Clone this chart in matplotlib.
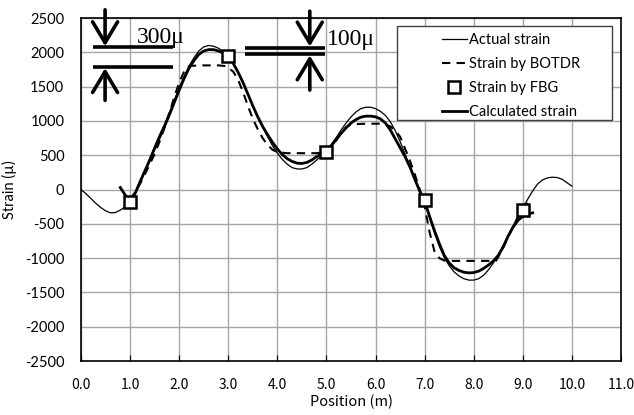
import matplotlib
matplotlib.use('Agg')
import matplotlib.pyplot as plt
from matplotlib.lines import Line2D
from matplotlib.patches import Rectangle

# strain curves (position in m, strain in micro)
actual_x = [0.0, 0.1, 0.2, 0.3, 0.4, 0.5, 0.6, 0.7, 0.8, 0.9, 1.0, 1.1, 1.2, 1.3, 1.4, 1.5,
            1.6, 1.7, 1.8, 1.9, 2.0, 2.1, 2.2, 2.3, 2.4, 2.5, 2.6, 2.7, 2.8, 2.9, 3.0,
            3.1, 3.2, 3.3, 3.4, 3.5, 3.6, 3.7, 3.8, 3.9, 4.0, 4.1, 4.2, 4.3, 4.4, 4.5,
            4.6, 4.7, 4.8, 4.9, 5.0, 5.1, 5.2, 5.3, 5.4, 5.5, 5.6, 5.7, 5.8, 5.9, 6.0,
            6.1, 6.2, 6.3, 6.4, 6.5, 6.6, 6.7, 6.8, 6.9, 7.0, 7.1, 7.2, 7.3, 7.4, 7.5,
            7.6, 7.7, 7.8, 7.9, 8.0, 8.1, 8.2, 8.3, 8.4, 8.5, 8.6, 8.7, 8.8, 8.9, 9.0,
            9.1, 9.2, 9.3, 9.4, 9.5, 9.6, 9.7, 9.8, 9.9, 10.0]
actual_y = [0, -60, -130, -200, -260, -310, -340, -335, -300, -250, -180, -50, 100, 270, 450, 630,
            800, 950, 1120, 1300, 1480, 1650, 1800, 1920, 2020, 2080, 2100, 2090, 2060, 2010, 1950,
            1830, 1700, 1550, 1390, 1220, 1060, 910, 770, 640, 530, 440, 370, 320, 300, 300,
            320, 370, 430, 500, 570, 660, 760, 870, 970, 1060, 1130, 1180, 1200, 1200, 1180,
            1140, 1080, 990, 860, 700, 520, 330, 140, -40, -180, -410, -630, -830, -990, -1110,
            -1200, -1260, -1300, -1320, -1320, -1300, -1250, -1170, -1070, -950, -810, -670, -530, -400, -270,
            -140, -20, 80, 140, 170, 180, 175, 150, 100, 50]

botdr_x = [1.0, 1.1, 1.2, 1.3, 1.4, 1.5, 1.6, 1.7, 1.8, 1.9, 2.0, 2.1, 2.2, 2.4, 2.6, 2.8, 2.95,
           3.1, 3.2, 3.3, 3.4, 3.5, 3.6, 3.7, 3.8, 3.9, 4.0, 4.2, 4.5, 4.8, 5.0, 5.1, 5.2, 5.3,
           5.4, 5.5, 5.8, 6.1, 6.2, 6.3, 6.4, 6.5, 6.6, 6.7, 6.8, 6.9, 7.0, 7.1, 7.2, 7.3, 7.4,
           7.5, 8.0, 8.45, 8.5, 8.6, 8.7, 8.8, 8.9, 9.0, 9.15]
botdr_y = [-150, -40, 80, 220, 370, 520, 700, 900, 1120, 1350, 1560, 1720, 1800, 1810, 1810, 1810, 1800,
           1720, 1600, 1420, 1220, 1030, 880, 750, 650, 580, 545, 530, 530, 530, 550, 620, 720, 830,
           910, 950, 960, 960, 950, 920, 860, 770, 600, 420, 220, 0, -250, -620, -900, -1000, -1035,
           -1040, -1040, -1040, -980, -840, -690, -540, -400, -260, -150]

fbg_x = [1.0, 3.0, 5.0, 7.0, 9.0]
fbg_y = [-180, 1950, 550, -150, -300]

calc_x = [0.8, 0.9, 1.0, 1.1, 1.2, 1.3, 1.4, 1.5, 1.6, 1.7, 1.8, 1.9, 2.0, 2.1, 2.2, 2.3, 2.4,
          2.5, 2.6, 2.7, 2.8, 2.9, 3.0, 3.1, 3.2, 3.3, 3.4, 3.5, 3.6, 3.7, 3.8, 3.9, 4.0, 4.1,
          4.2, 4.3, 4.4, 4.5, 4.6, 4.7, 4.8, 4.9, 5.0, 5.1, 5.2, 5.3, 5.4, 5.5, 5.6, 5.7, 5.8,
          5.9, 6.0, 6.1, 6.2, 6.3, 6.4, 6.5, 6.6, 6.7, 6.8, 6.9, 7.0, 7.1, 7.2, 7.3, 7.4, 7.5,
          7.6, 7.7, 7.8, 7.9, 8.0, 8.1, 8.2, 8.3, 8.4, 8.5, 8.6, 8.7, 8.8, 8.9, 9.0, 9.1, 9.2]
calc_y = [30, -80, -150, -60, 110, 270, 430, 600, 760, 920, 1090, 1270, 1450, 1620, 1770, 1880, 1970,
          2020, 2040, 2040, 2020, 1990, 1950, 1840, 1710, 1560, 1390, 1220, 1060, 920, 800, 690, 590, 510,
          450, 410, 385, 380, 395, 430, 480, 520, 560, 640, 730, 820, 900, 970, 1020, 1055, 1070,
          1070, 1060, 1030, 970, 870, 740, 610, 480, 330, 150, -20, -170, -390, -600, -790, -960, -1070,
          -1140, -1180, -1205, -1215, -1210, -1190, -1150, -1100, -1040, -960, -840, -680, -550, -450, -390, -355, -340]

x_ticks = [0, 1, 2, 3, 4, 5, 6, 7, 8, 9, 10, 11]
y_ticks = [-2500, -2000, -1500, -1000, -500, 0, 500, 1000, 1500, 2000, 2500]

sans = ['Lato', 'DejaVu Sans']
jp = ['Noto Sans CJK JP', 'DejaVu Sans']
serif = ['Liberation Serif', 'DejaVu Serif']

fig = plt.figure(figsize=(6.34, 4.15), dpi=100)
ax = fig.add_axes([0.1278, 0.130, 0.8517, 0.8265])

ax.plot(actual_x, actual_y, color='black', lw=0.9, zorder=3)
ax.plot(botdr_x, botdr_y, color='black', lw=1.5, ls=(0, (4, 3)), zorder=3)
ax.plot(calc_x, calc_y, color='black', lw=2.0, zorder=4)
ax.plot(fbg_x, fbg_y, ls='none', marker='s', ms=8, mfc='white', mec='black', mew=1.8, zorder=5)

ax.set_xlim(0, 11)
ax.set_ylim(-2500, 2500)
ax.set_xticks(x_ticks)
ax.set_xticklabels([f'{v:.1f}' for v in x_ticks], family=jp, fontsize=10)
ax.set_yticks(y_ticks)
ax.set_yticklabels([str(v) for v in y_ticks], family=sans, fontsize=10.5)
ax.tick_params(axis='y', length=0, pad=12)
ax.tick_params(axis='x', length=4, direction='in', pad=12)
ax.grid(True, color='#a6a6a6', lw=1.0)
ax.set_axisbelow(True)
for s in ax.spines.values():
    s.set_color('black')
    s.set_linewidth(1.2)

ax.set_xlabel('Position (m)', family=jp, fontsize=10.5, labelpad=2)
ax.set_ylabel('Strain (\u00b5)', family=sans, fontsize=10.5, labelpad=6)

# difference markers (300 / 100 micro)
arrow = dict(arrowstyle='->,head_length=0.75,head_width=0.45', lw=2.6, color='black',
             mutation_scale=20, shrinkA=0, shrinkB=0)
ax.annotate('', xy=(0.49, 2090), xytext=(0.49, 2620), arrowprops=arrow, annotation_clip=False)
ax.annotate('', xy=(0.49, 1770), xytext=(0.49, 1300), arrowprops=arrow, annotation_clip=False)
ax.plot([0.24, 1.87], [2080, 2080], color='black', lw=2.6, solid_capstyle='butt', zorder=6)
ax.plot([0.24, 1.87], [1780, 1780], color='black', lw=2.6, solid_capstyle='butt', zorder=6)
ax.text(1.14, 2130, '300\u03bc', family=serif, fontsize=17, ha='left', va='baseline')

ax.annotate('', xy=(4.66, 2085), xytext=(4.66, 2600), arrowprops=arrow, annotation_clip=False)
ax.annotate('', xy=(4.66, 1955), xytext=(4.66, 1450), arrowprops=arrow, annotation_clip=False)
ax.plot([3.35, 4.97], [2070, 2070], color='black', lw=2.6, solid_capstyle='butt', zorder=6)
ax.plot([3.35, 4.97], [1970, 1970], color='black', lw=2.6, solid_capstyle='butt', zorder=6)
ax.text(5.01, 2100, '100\u03bc', family=serif, fontsize=17, ha='left', va='baseline')

# legend box
ax.add_patch(Rectangle((0.585, 0.703), 0.398, 0.274, transform=ax.transAxes,
                       facecolor='white', edgecolor='#404040', lw=1.0, zorder=7))
handles = [Line2D([], [], color='black', lw=0.9),
           Line2D([], [], color='black', lw=1.5, ls=(0, (4, 3))),
           Line2D([], [], ls='none', marker='s', ms=8, mfc='white', mec='black', mew=1.8),
           Line2D([], [], color='black', lw=2.0)]
labels = ['Actual strain', 'Strain by BOTDR', 'Strain by FBG', 'Calculated strain']
leg = ax.legend(handles, labels, loc='upper left', bbox_to_anchor=(0.655, 0.978),
                frameon=False, borderpad=0, handlelength=1.7, handletextpad=0.15,
                labelspacing=0.68, prop={'family': sans, 'size': 10.5})
leg.set_zorder(8)

fig.savefig('out.png', dpi=100)
